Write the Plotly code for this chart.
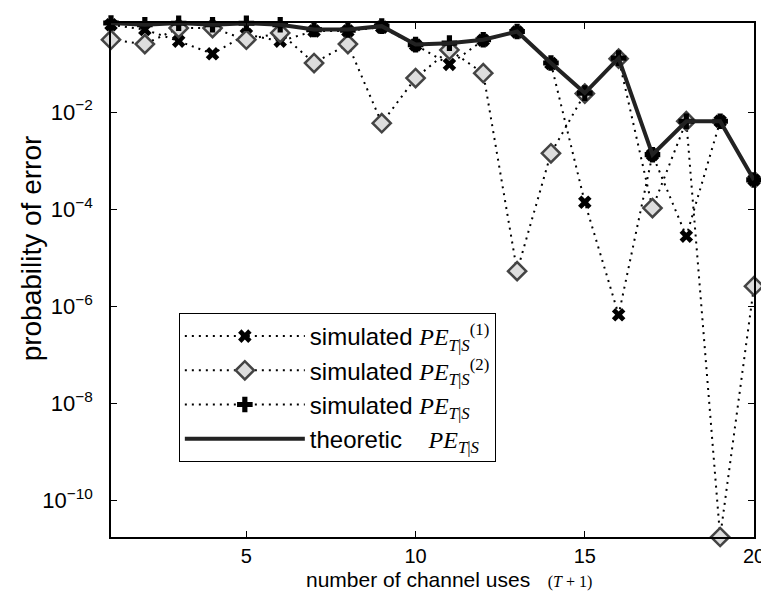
import plotly.graph_objects as go

# ---- data (log10 of probability of error) ----
channel_uses = list(range(1, 21))

log_pe1_sim = [-0.20, -0.30, -0.54, -0.80, -0.40, -0.54, -0.33, -0.33, -0.25, -0.62,
               -1.02, -0.52, -0.35, -1.00, -3.86, -6.18, -2.88, -4.56, -2.19, -3.40]
log_pe2_sim = [-0.51, -0.60, -0.27, -0.27, -0.51, -0.37, -0.99, -0.60, -2.23, -1.30,
               -0.72, -1.20, -5.28, -2.85, -1.62, -0.90, -3.98, -2.19, -10.76, -5.59]
log_pe_sim = [-0.165, -0.20, -0.17, -0.20, -0.17, -0.20, -0.30, -0.31, -0.23, -0.61,
              -0.58, -0.51, -0.34, -0.99, -1.61, -0.89, -2.88, -2.19, -2.19, -3.40]
log_pe_theory = [-0.165, -0.20, -0.165, -0.20, -0.17, -0.20, -0.30, -0.30, -0.23, -0.61,
                 -0.58, -0.51, -0.34, -0.99, -1.61, -0.89, -2.88, -2.19, -2.19, -3.40]

y_tick_exponents = [-10, -8, -6, -4, -2]
x_tick_values = [5, 10, 15, 20]

pe1 = [10 ** v for v in log_pe1_sim]
pe2 = [10 ** v for v in log_pe2_sim]
pe = [10 ** v for v in log_pe_sim]
pe_th = [10 ** v for v in log_pe_theory]

SERIF = "Liberation Serif"
SANS = "Liberation Sans"

W, H = 769, 592
ML, MR, MT, MB = 103, 12, 15, 63
PW, PH = W - ML - MR, H - MT - MB


def px_x(px):
    return (px - ML) / PW


def px_y(py):
    return 1 - (py - MT) / PH


def pe_label(sup=None):
    s = f"<span style='font-family:{SERIF}'><i>PE</i></span>"
    s += f"<sub><span style='font-family:{SERIF}'><i>T</i>|<i>S</i></span></sub>"
    if sup:
        s += f"<sup><span style='font-family:{SERIF}'>({sup})</span></sup>"
    return s


dot = "2px,5px"

fig = go.Figure()
fig.add_trace(go.Scatter(
    x=channel_uses, y=pe1, mode="lines+markers", cliponaxis=False,
    name="simulated " + pe_label("1"),
    line=dict(color="black", width=2, dash=dot),
    marker=dict(symbol="x", size=12, color="black", line=dict(width=0)),
))
fig.add_trace(go.Scatter(
    x=channel_uses, y=pe2, mode="lines+markers", cliponaxis=False,
    name="simulated " + pe_label("2"),
    line=dict(color="black", width=2, dash=dot),
    marker=dict(symbol="diamond", size=14, color="#dddddd",
                line=dict(width=2.5, color="#444444")),
))
fig.add_trace(go.Scatter(
    x=channel_uses, y=pe, mode="lines+markers", cliponaxis=False,
    name="simulated " + pe_label(),
    line=dict(color="black", width=2, dash=dot),
    marker=dict(symbol="cross", size=13, color="black", line=dict(width=0)),
))
fig.add_trace(go.Scatter(
    x=channel_uses, y=pe_th, mode="lines", cliponaxis=False,
    name="theoretic&nbsp;&nbsp;&nbsp;&nbsp;" + pe_label(),
    line=dict(color="#222222", width=4),
))

fig.update_layout(
    width=W, height=H,
    margin=dict(l=ML, r=MR, t=MT, b=MB),
    paper_bgcolor="white", plot_bgcolor="white",
    font=dict(family=SANS, color="black", size=20),
    showlegend=True,
    legend=dict(
        x=px_x(172), y=px_y(305), xanchor="left", yanchor="top",
        bgcolor="white", bordercolor="black", borderwidth=1,
        font=dict(family=SANS, size=24, color="black"),
        itemwidth=120, tracegroupgap=0,
    ),
    xaxis=dict(
        range=[1, 20], tickvals=x_tick_values,
        ticks="inside", ticklen=6, tickcolor="black",
        showline=True, linecolor="black", linewidth=1.5, mirror="ticks",
        showgrid=False, zeroline=False,
        tickfont=dict(size=20), ticklabelstandoff=0,
    ),
    yaxis=dict(
        type="log", range=[-10.76, -0.165],
        tickvals=[10 ** e for e in y_tick_exponents],
        ticktext=[f"10<sup>−{-e}</sup>" for e in y_tick_exponents],
        ticks="inside", ticklen=6, tickcolor="black",
        showline=True, linecolor="black", linewidth=1.5, mirror="ticks",
        showgrid=False, zeroline=False,
        tickfont=dict(size=22), ticklabelstandoff=12,
    ),
    annotations=[
        dict(
            text="number of channel uses&nbsp;&nbsp;&nbsp;"
                 f"<span style='font-family:{SERIF};font-size:16px'>(<i>T</i>&nbsp;+&nbsp;1)</span>",
            xref="paper", yref="paper", x=px_x(300), y=px_y(584),
            xanchor="left", yanchor="bottom", showarrow=False, borderpad=0,
            font=dict(family=SANS, size=21, color="black"),
        ),
        dict(
            text="probability of error",
            xref="paper", yref="paper", x=px_x(22), y=px_y(240),
            xanchor="center", yanchor="middle", showarrow=False, textangle=-90,
            font=dict(family=SANS, size=28, color="black"),
        ),
    ],
)

fig.write_html("out.html")
